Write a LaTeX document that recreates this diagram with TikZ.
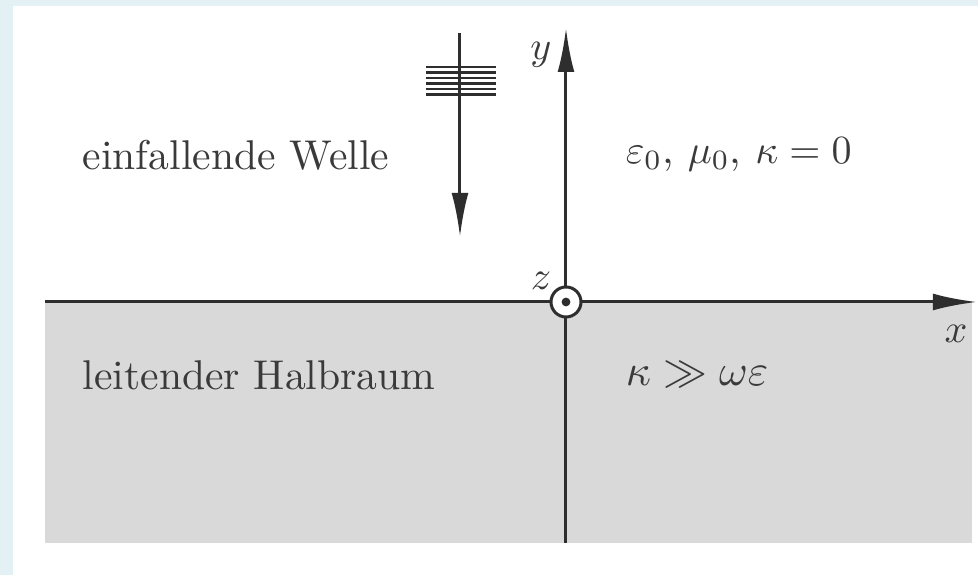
\documentclass[tikz,border=0pt]{standalone}
\usepackage{amsmath,amssymb}
\usetikzlibrary{arrows.meta}
\definecolor{frameblue}{HTML}{E4F1F4}
\definecolor{halbgray}{HTML}{D9D9D9}
\definecolor{linegray}{HTML}{2E2E2E}
\definecolor{textgray}{HTML}{3A3A3A}
\begin{document}
\begin{tikzpicture}[x=0.25pt,y=-0.25pt,
  axisline/.style={draw=linegray,line width=0.75pt,-{Latex[length=11pt,width=4.2pt]}},
  plainline/.style={draw=linegray,line width=0.75pt},
  lbl/.style={text=textgray,inner sep=0pt,font=\fontsize{10.4}{12}\selectfont},
  ]
\useasboundingbox (0,0) rectangle (978,575);
\fill[frameblue] (0,0) rectangle (978,575);
\fill[white] (13,6) rectangle (978,575);
\fill[halbgray] (45,302) rectangle (972,543);
% coordinates
\coordinate (xl) at (45,302);
\coordinate (xr) at (977,302);
\coordinate (yb) at (566,543);
\coordinate (yt) at (566,28);
\coordinate (wt) at (460,33);
\coordinate (wb) at (460,237);
% axes
\draw[axisline] (xl) -- (xr);
\draw[axisline] (yb) -- (yt);
% wave
\draw[axisline] (wt) -- (wb);
\foreach \yy [count=\i] in {67,72.5,78,83.5,89,94.5}{
  \coordinate (wl\i) at (426,\yy);
  \coordinate (wr\i) at (496,\yy);
  \draw[plainline,line width=0.6pt] (wl\i) -- (wr\i);
}
% origin z
\node[circle,draw=linegray,fill=white,line width=0.75pt,minimum size=7.5pt,inner sep=0pt] (zc) at (566,302) {};
\fill[linegray] (zc.center) circle[radius=1.1pt];
% labels
\node[lbl] (ylab) at (541,55) {$y$};
\node[lbl] (zlab) at (541,281) {$z$};
\node[lbl] (xlab) at (956,334) {$x$};
\node[lbl,anchor=west] (einf) at (82,155) {einfallende Welle};
\node[lbl,anchor=west] (leit) at (82,375) {leitender Halbraum};
\node[lbl,anchor=west] (eps) at (625,155) {$\varepsilon_0$, $\mu_0$, $\kappa = 0$};
\node[lbl,anchor=west,font=\fontsize{11}{13}\selectfont] (kap) at (625,375) {$\kappa \gg \omega\varepsilon$};
\end{tikzpicture}
\end{document}
